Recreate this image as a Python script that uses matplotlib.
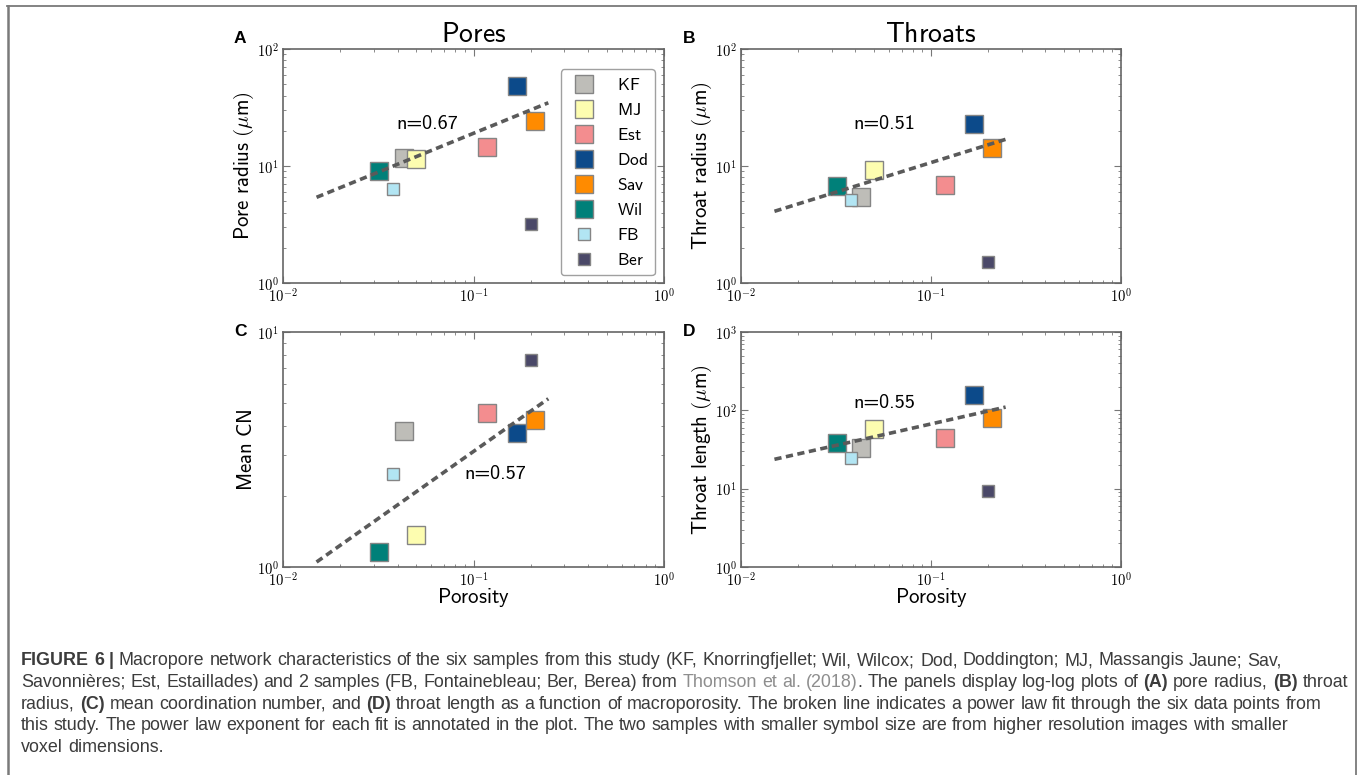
import numpy as np
import matplotlib
matplotlib.use("Agg")
import matplotlib.pyplot as plt
from matplotlib.ticker import FuncFormatter, LogLocator, NullFormatter
from matplotlib.lines import Line2D

plt.rcParams['mathtext.fontset'] = 'cm'
plt.rcParams['font.family'] = ['Liberation Sans', 'DejaVu Sans']

# ---------------- data ----------------
samples = ['KF', 'MJ', 'Est', 'Dod', 'Sav', 'Wil', 'FB', 'Ber']
colors = ['#bebdb8', '#fdfdb0', '#f38d8f', '#0c4a8a', '#ff8b00', '#008079', '#b2e5f3', '#4a4868']
small = [False, False, False, False, False, False, True, True]

porosity = [0.043, 0.050, 0.118, 0.169, 0.210, 0.032, 0.038, 0.200]
pore_radius = [11.6, 11.5, 14.6, 48.6, 24.3, 9.0, 6.3, 3.2]
throat_radius = [5.4, 9.3, 6.9, 23.0, 14.2, 6.8, 5.1, 1.5]
mean_cn = [3.78, 1.37, 4.52, 3.72, 4.24, 1.16, 2.48, 7.58]
throat_length = [33.4, 57.3, 44.8, 159.0, 79.0, 38.7, 24.9, 9.3]

fit_x = [0.015, 0.247]
fit_pore_radius = [5.4, 34.7]
fit_throat_radius = [4.1, 16.9]
fit_mean_cn = [1.05, 5.2]
fit_throat_length = [23.7, 110.0]
exponents = ['0.67', '0.51', '0.57', '0.55']

ylabels = [r'$\mathsf{Pore\ radius}\ (\mu\mathsf{m})$',
           r'$\mathsf{Throat\ radius}\ (\mu\mathsf{m})$',
           r'$\mathsf{Mean\ CN}$',
           r'$\mathsf{Throat\ length}\ (\mu\mathsf{m})$']
ylims = [(1, 100), (1, 100), (1, 10), (1, 1000)]
titles = ['Pores', 'Throats', None, None]
letters = ['A', 'B', 'C', 'D']

# ---------------- figure ----------------
W, H = 1357, 775
fig = plt.figure(figsize=(W / 100, H / 100), dpi=100)


def fx(px):
    return px / W


def fy(py):
    return 1 - py / H


def make_ax(left, top, right, bottom):
    return fig.add_axes([fx(left), fy(bottom), fx(right) - fx(left), fy(top) - fy(bottom)])


boxes = [(283, 49, 664, 283), (741, 49, 1121, 283), (283, 332, 664, 567), (741, 332, 1121, 567)]
letter_pos = [(234, 43), (683, 43), (234, 336), (683, 336)]
n_pos = [(0.298, 0.678), (0.297, 0.678), (0.476, 0.394), (0.297, 0.699)]
yvals = [pore_radius, throat_radius, mean_cn, throat_length]
fits = [fit_pore_radius, fit_throat_radius, fit_mean_cn, fit_throat_length]

fmt = FuncFormatter(lambda v, p: r'$10^{%d}$' % int(round(np.log10(v))))

axes = []
for i, box in enumerate(boxes):
    ax = make_ax(*box)
    axes.append(ax)
    ax.set_xscale('log')
    ax.set_yscale('log')
    ax.set_xlim(0.01, 1)
    ax.set_ylim(*ylims[i])
    handles = []
    for j, s in enumerate(samples):
        ms = 8 if small[j] else 13.2
        h, = ax.plot([porosity[j]], [yvals[i][j]], ls='none', marker='s', ms=ms,
                     mfc=colors[j], mec='#858585', mew=1.0, zorder=3, label=s)
        handles.append(h)
    ax.plot(fit_x, fits[i], ls=(0, (2.0, 1.25)), color='#5a5a5a', lw=2.6, zorder=4,
            solid_capstyle='butt', dash_capstyle='butt')
    ax.text(n_pos[i][0], n_pos[i][1], 'n=%s' % exponents[i], family=['cmss10', 'DejaVu Sans'],
            transform=ax.transAxes, fontsize=14.5, ha='left', va='center')
    for sp in ax.spines.values():
        sp.set_color('#666666')
        sp.set_linewidth(1.2)
    ax.xaxis.set_major_locator(LogLocator(base=10, numticks=10))
    ax.yaxis.set_major_locator(LogLocator(base=10, numticks=10))
    ax.xaxis.set_major_formatter(fmt)
    ax.yaxis.set_major_formatter(fmt)
    ax.xaxis.set_minor_formatter(NullFormatter())
    ax.yaxis.set_minor_formatter(NullFormatter())
    ax.tick_params(which='both', direction='in', top=True, right=True, color='#777777',
                   labelsize=10.5)
    ax.tick_params(which='major', length=5, width=0.8, pad=3)
    ax.tick_params(which='minor', length=2.5, width=0.6)
    ax.set_ylabel(ylabels[i], fontsize=15)
    ax.yaxis.set_label_coords(-0.072, 0.5)
    if i >= 2:
        ax.set_xlabel(r'$\mathsf{Porosity}$', fontsize=15)
        ax.xaxis.set_label_coords(0.5, -0.08)
    if titles[i]:
        ax.set_title(r'$\mathsf{%s}$' % titles[i], fontsize=20, pad=5)
    fig.text(fx(letter_pos[i][0]), fy(letter_pos[i][1]), letters[i], fontsize=12.5,
             fontweight='bold', ha='left', va='baseline')
    if i == 0:
        leg = ax.legend(handles, [r'$\mathsf{%s}$' % s for s in samples], loc='upper right',
                        bbox_to_anchor=(0.976, 0.913), borderaxespad=0, numpoints=1,
                        fontsize=12.5, frameon=True, fancybox=True, labelspacing=0.52,
                        handlelength=1.8, handletextpad=1.0, borderpad=0.42)
        leg.get_frame().set_edgecolor('#888888')
        leg.get_frame().set_linewidth(1.0)

# ---------------- border ----------------
bc = '#7a7a7a'
fig.add_artist(Line2D([fx(7.5), fx(7.5)], [fy(6), fy(790)], color=bc, lw=1.8))
fig.add_artist(Line2D([fx(7), fx(1355.5)], [fy(6), fy(6)], color=bc, lw=1.3))
fig.add_artist(Line2D([fx(1355.5), fx(1355.5)], [fy(6), fy(790)], color=bc, lw=1.3))

# ---------------- caption ----------------
dark = '#3c3c3c'
link = '#8e8e8e'
cap_lines = [
    [("FIGURE 6 |", True, dark),
     (" Macropore network characteristics of the six samples from this study (KF, Knorringfjellet; Wil, Wilcox; Dod, Doddington; MJ, Massangis Jaune; Sav,", False, dark)],
    [("Savonnières; Est, Estaillades) and 2 samples (FB, Fontainebleau; Ber, Berea) from ", False, dark),
     ("Thomson et al. (2018)", False, link),
     (". The panels display log-log plots of ", False, dark), ("(A)", True, dark),
     (" pore radius, ", False, dark), ("(B)", True, dark), (" throat", False, dark)],
    [("radius, ", False, dark), ("(C)", True, dark), (" mean coordination number, and ", False, dark),
     ("(D)", True, dark),
     (" throat length as a function of macroporosity. The broken line indicates a power law fit through the six data points from", False, dark)],
    [("this study. The power law exponent for each fit is annotated in the plot. The two samples with smaller symbol size are from higher resolution images with smaller", False, dark)],
    [("voxel dimensions.", False, dark)],
]
cap_size = 12.85
cap_x0 = 21
cap_y0 = 665
cap_dy = 21.8

renderer = fig.canvas.get_renderer()


def text_w(s, bold):
    t = fig.text(0, 0, s, fontsize=cap_size, fontweight='bold' if bold else 'normal')
    w = t.get_window_extent(renderer).width
    t.remove()
    return w


space_w = text_w('a a', False) - text_w('aa', False)

for li, runs in enumerate(cap_lines):
    x = cap_x0
    y = cap_y0 + li * cap_dy
    pending_space = False
    first = True
    for txt, bold, col in runs:
        if txt.startswith(' ') and not first:
            pending_space = True
        words = txt.split()
        for wi, wd in enumerate(words):
            if (wi > 0 or pending_space) and not first:
                x += space_w
            pending_space = False
            t = fig.text(fx(x), fy(y), wd, fontsize=cap_size,
                         fontweight='bold' if bold else 'normal', color=col,
                         ha='left', va='baseline')
            x += t.get_window_extent(renderer).width
            first = False
        if txt.endswith(' '):
            pending_space = True

fig.savefig('out.png', dpi=100)
